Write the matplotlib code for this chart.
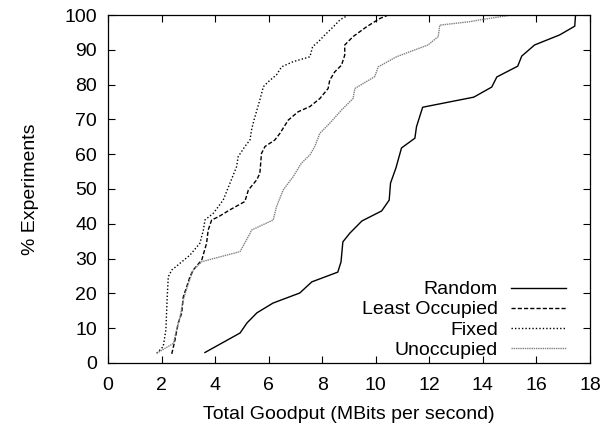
import matplotlib
matplotlib.use('Agg')
import matplotlib.pyplot as plt

plt.rcParams['font.family'] = ['Liberation Sans', 'DejaVu Sans']
plt.rcParams['font.size'] = 14

# CDF points: goodput (MBits/s) vs % of experiments
random_x = [3.62, 4.93, 5.19, 5.56, 6.16, 7.16, 7.61, 8.58, 8.70, 8.77, 9.03, 9.48,
            10.22, 10.50, 10.55, 10.75, 10.96, 11.46, 11.52, 11.75, 13.66, 14.33,
            14.52, 15.30, 15.45, 15.93, 16.87, 17.43, 17.46]
random_y = [3.0, 8.6, 11.5, 14.4, 17.2, 20.1, 23.3, 26.1, 29.0, 34.8, 37.3, 40.8,
            43.7, 46.8, 51.7, 56.0, 61.8, 64.6, 67.9, 73.5, 76.4, 79.3,
            82.2, 85.3, 88.2, 91.4, 94.3, 96.8, 100.0]

least_x = [2.38, 2.50, 2.62, 2.75, 2.81, 2.94, 3.06, 3.18, 3.50, 3.68, 3.74, 3.87,
           4.12, 4.55, 5.11, 5.24, 5.55, 5.67, 5.73, 5.86, 6.23, 6.42, 6.73, 7.10,
           7.54, 7.91, 8.22, 8.28, 8.47, 8.72, 8.84, 8.84, 9.15, 9.65, 9.96, 10.15, 10.46]
least_y = [2.6, 6.6, 11.4, 14.3, 19.0, 21.9, 24.8, 26.7, 29.6, 34.4, 38.2, 41.1,
           42.0, 44.0, 46.4, 49.7, 52.6, 54.5, 60.2, 62.2, 64.1, 66.0, 69.8, 72.2,
           73.7, 76.0, 78.9, 81.3, 83.7, 85.6, 88.5, 91.4, 93.8, 96.6, 98.1, 99.0, 100.0]

fixed_x = [1.82, 2.06, 2.16, 2.21, 2.25, 2.38, 3.06, 3.43, 3.56, 3.62, 3.93, 4.30,
           4.55, 4.80, 4.86, 5.11, 5.30, 5.36, 5.45, 5.67, 5.80, 5.98, 6.29, 6.48,
           6.91, 7.54, 7.64, 7.85, 8.10, 8.41, 8.66, 8.97]
fixed_y = [2.8, 4.7, 9.5, 19.0, 24.8, 26.7, 31.0, 34.4, 38.2, 41.1, 43.0, 46.8,
           51.6, 56.4, 59.3, 62.2, 64.1, 67.0, 69.8, 75.6, 79.4, 80.8, 82.8, 85.1,
           86.6, 88.0, 90.9, 92.3, 94.3, 96.6, 98.6, 100.0]

unocc_x = [1.82, 2.44, 2.56, 2.69, 2.81, 3.00, 3.18, 3.50, 4.93, 5.30, 5.36, 6.17,
           6.29, 6.54, 6.91, 7.22, 7.54, 7.72, 7.91, 8.28, 8.72, 9.15, 9.22, 9.96,
           10.09, 10.77, 11.95, 12.33, 12.39, 13.51, 13.88, 15.06]
unocc_y = [2.8, 5.6, 9.5, 13.3, 18.1, 22.9, 26.7, 29.1, 32.0, 37.2, 38.2, 41.1,
           44.9, 49.7, 53.5, 57.4, 59.8, 62.2, 66.0, 68.9, 72.7, 76.0, 78.9, 82.3,
           85.1, 88.0, 91.4, 93.8, 97.1, 98.1, 98.6, 100.0]

fig = plt.figure(figsize=(6.07, 4.30), dpi=100)
ax = fig.add_axes([0.178, 0.156, 0.794, 0.809])

ax.plot(random_x, random_y, color='black', linestyle='-', linewidth=1.0, label='Random')
ax.plot(least_x, least_y, color='black', linestyle=(0, (3, 1.5)), linewidth=1.0, label='Least Occupied')
ax.plot(fixed_x, fixed_y, color='black', linestyle=(0, (1, 1.5)), linewidth=1.0, label='Fixed')
ax.plot(unocc_x, unocc_y, color='#808080', linestyle=(0, (1, 0.6)), linewidth=1.0, label='Unoccupied')

ax.set_xlim(0, 18)
ax.set_ylim(0, 100)
ax.set_xticks(range(0, 19, 2))
ax.set_yticks(range(0, 101, 10))
ax.tick_params(direction='in', length=5, top=True, right=True, width=0.8)
ax.tick_params(axis='x', pad=10)
ax.tick_params(axis='y', pad=8)
for s in ax.spines.values():
    s.set_linewidth(0.9)

ax.set_xlabel('Total Goodput (MBits per second)', labelpad=9)
ax.set_ylabel('% Experiments', labelpad=18)

ax.legend(loc='lower right', frameon=False, markerfirst=False, handlelength=2.8,
          handletextpad=0.7, labelspacing=0.13, borderpad=0, borderaxespad=0,
          bbox_to_anchor=(0.950, 0.012))

fig.savefig('out.png', dpi=100)
